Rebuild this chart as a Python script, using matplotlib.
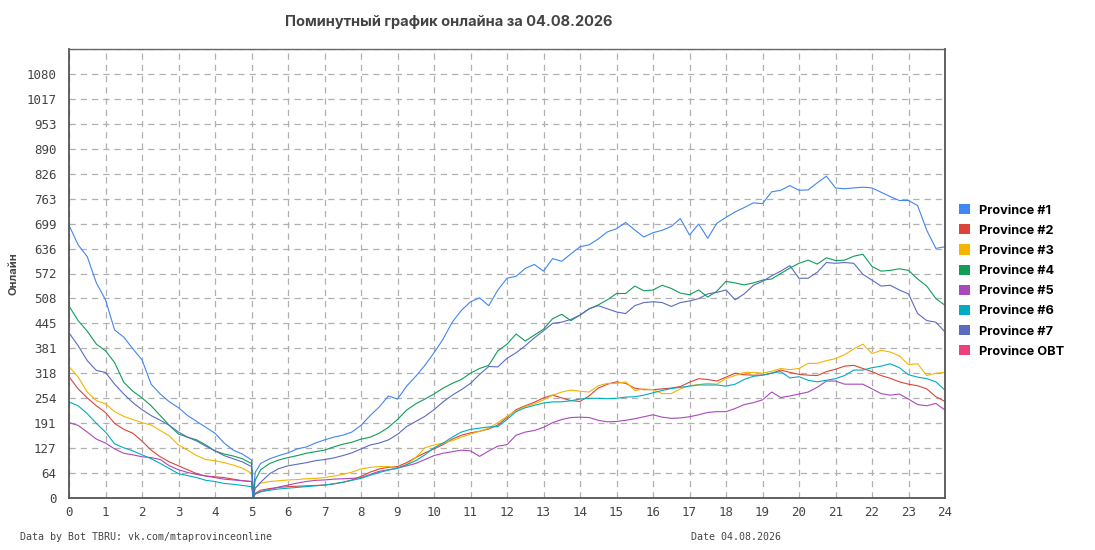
import numpy as np
import matplotlib.pyplot as plt
from matplotlib.patches import Patch

# time of day in hours (15-minute readings, plus the restart just after 05:00)
hours = np.concatenate([np.arange(0, 5.01, 0.25), [5.05, 5.1], np.arange(5.25, 24.01, 0.25)])

p1 = [695, 645, 615, 548, 505, 428, 410, 380, 352, 290, 265, 245, 230, 210, 195, 180,
      165, 140, 122, 112, 97, 5, 65,
      88, 100, 108, 115, 125, 130, 140, 148, 155, 160, 168, 185, 210, 232, 260, 252,
      285, 310, 338, 370, 405, 448, 478, 500, 510, 490, 530, 560, 565, 585, 595, 578,
      610, 603, 622, 640, 645, 660, 678, 686, 702, 683, 665, 676, 682, 692, 712, 670,
      698, 662, 700, 715, 729, 740, 752, 750, 780, 784, 796, 784, 785, 803, 820, 790,
      788, 790, 792, 790, 779, 768, 758, 758, 745, 682, 636, 640]
p2 = [309, 278, 255, 235, 218, 190, 175, 165, 145, 122, 105, 92, 82, 72, 62, 56,
      54, 52, 48, 44, 42, 1, 12,
      20, 24, 27, 29, 30, 31, 32, 33, 36, 40, 46, 55, 66, 74, 78, 80,
      90, 103, 115, 125, 136, 150, 160, 166, 170, 176, 186, 205, 225, 235, 244, 255,
      262, 255, 248, 246, 260, 280, 290, 296, 292, 280, 276, 276, 278, 280, 284, 295,
      304, 302, 298, 308, 318, 314, 313, 313, 318, 326, 320, 315, 313, 312, 322, 328,
      336, 338, 330, 322, 312, 305, 296, 290, 286, 278, 258, 246]
p3 = [335, 308, 270, 248, 240, 220, 208, 200, 192, 186, 172, 158, 135, 122, 108, 98,
      95, 90, 84, 76, 63, 2, 25,
      38, 42, 44, 46, 47, 49, 50, 52, 56, 60, 66, 74, 78, 80, 80, 77,
      85, 103, 128, 135, 140, 146, 155, 163, 170, 178, 192, 208, 222, 233, 240, 250,
      262, 270, 275, 272, 270, 286, 292, 292, 296, 274, 278, 276, 266, 266, 278, 286,
      289, 292, 290, 305, 312, 320, 320, 318, 323, 330, 327, 330, 343, 343, 350, 355,
      365, 380, 392, 368, 376, 372, 362, 340, 342, 312, 318, 320]
p4 = [489, 452, 425, 392, 375, 345, 295, 272, 255, 235, 210, 185, 163, 155, 148, 135,
      120, 112, 107, 100, 88, 3, 45,
      72, 88, 97, 103, 108, 114, 118, 122, 130, 137, 142, 150, 155, 165, 180, 200,
      224, 240, 252, 265, 280, 292, 302, 318, 330, 338, 375, 392, 418, 400, 415, 430,
      457, 468, 452, 466, 482, 492, 505, 521, 521, 540, 528, 530, 542, 534, 522, 518,
      530, 512, 527, 552, 548, 543, 548, 555, 558, 572, 586, 598, 606, 596, 612, 605,
      606, 616, 621, 590, 578, 580, 584, 580, 558, 540, 508, 491]
p5 = [192, 185, 168, 150, 140, 125, 114, 110, 105, 103, 98, 82, 72, 65, 60, 56,
      52, 48, 46, 44, 42, 1, 10,
      16, 22, 28, 33, 38, 42, 45, 46, 48, 49, 50, 52, 60, 68, 72, 76,
      82, 88, 98, 108, 114, 118, 122, 120, 106, 120, 132, 136, 160, 168, 172, 180,
      192, 200, 205, 206, 205, 198, 194, 195, 198, 202, 207, 212, 206, 203, 204, 207,
      212, 218, 220, 220, 228, 238, 243, 250, 270, 256, 260, 265, 270, 282, 298, 298,
      290, 290, 290, 278, 266, 262, 265, 252, 238, 235, 241, 224]
p6 = [245, 235, 215, 190, 168, 138, 128, 120, 110, 100, 88, 75, 62, 57, 52, 45,
      42, 37, 35, 32, 29, 1, 10,
      16, 20, 23, 25, 27, 29, 31, 33, 36, 40, 45, 50, 58, 65, 71, 76,
      85, 95, 110, 128, 140, 155, 168, 175, 178, 181, 182, 200, 220, 230, 236, 242,
      245, 245, 248, 252, 254, 254, 253, 254, 257, 258, 262, 268, 274, 279, 282, 285,
      288, 288, 288, 285, 290, 302, 310, 313, 318, 322, 306, 309, 300, 296, 300, 304,
      312, 326, 326, 332, 336, 342, 332, 314, 308, 304, 296, 275]
p7 = [421, 388, 350, 325, 320, 290, 265, 243, 225, 210, 198, 185, 168, 155, 145, 132,
      120, 108, 100, 92, 80, 2, 25,
      40, 62, 75, 82, 86, 90, 95, 98, 102, 108, 115, 125, 135, 140, 148, 162,
      182, 195, 208, 225, 245, 262, 276, 292, 315, 335, 334, 356, 370, 388, 408, 426,
      445, 448, 455, 466, 482, 490, 482, 474, 470, 490, 498, 500, 498, 488, 498, 502,
      508, 520, 524, 530, 505, 520, 542, 552, 566, 578, 592, 560, 560, 575, 600, 598,
      600, 598, 570, 555, 540, 542, 530, 520, 470, 452, 448, 423]
pobt = []  # no data for this server on the day

names = ["Province #1", "Province #2", "Province #3", "Province #4",
         "Province #5", "Province #6", "Province #7", "Province OBT"]
colors = ["#4285F4", "#DB4437", "#F4B400", "#0F9D58",
          "#AB47BC", "#00ACC1", "#5C6BC0", "#EC407A"]
series = [p1, p2, p3, p4, p5, p6, p7, pobt]

y_max = 1144
y_ticks = np.linspace(0, y_max, 19)
x_ticks = list(range(0, 25))

fig = plt.figure(figsize=(10.95, 5.5), dpi=100)
ax = fig.add_axes([69 / 1095, 52 / 550, 876 / 1095, 449 / 550])

for vals, col in zip(series, colors):
    if len(vals):
        ax.plot(hours, vals, color=col, lw=0.8)

ax.set_xlim(0, 24)
ax.set_ylim(0, y_max)
ax.set_xticks(x_ticks)
ax.set_yticks(y_ticks)
ax.set_yticklabels([f"{v:.0f}" if v < y_max else "" for v in y_ticks])
ax.grid(True, color="#b0b0b0", linestyle=(0, (5, 4)), lw=0.9)
ax.tick_params(length=0, labelsize=9, labelcolor="#444444")
ax.tick_params(axis="y", pad=9)
ax.tick_params(axis="x", pad=6)
for lab in ax.get_xticklabels() + ax.get_yticklabels():
    lab.set_family("DejaVu Sans Mono")
for side in ["left", "bottom", "right"]:
    ax.spines[side].set_color("#555555")
    ax.spines[side].set_linewidth(1.3)
ax.spines["top"].set_color("#666666")
ax.spines["top"].set_linewidth(1.0)

ax.set_ylabel("Онлайн", fontsize=8, fontweight="bold", color="#444444",
              family="Inter", labelpad=6)

fig.text(449 / 1095, 1 - 22 / 550, "Поминутный график онлайна за 04.08.2026",
         ha="center", va="center", fontsize=10.5, fontweight="bold",
         color="#444444", family="Inter")

handles = [Patch(facecolor=c, edgecolor="none") for c in colors]
fig.legend(handles, names, loc="upper left", bbox_to_anchor=(959 / 1095, 1 - 204 / 550),
           frameon=False, handlelength=0.85, handleheight=0.85, handletextpad=0.75,
           labelspacing=0.6, borderpad=0, borderaxespad=0,
           prop={"family": "Inter", "weight": "bold", "size": 9.2})

fig.text(20 / 1095, 1 - 537 / 550, "Data by Bot TBRU: vk.com/mtaprovinceonline",
         ha="left", va="center", fontsize=7.2, color="#444444", family="DejaVu Sans Mono")
fig.text(691 / 1095, 1 - 537 / 550, "Date 04.08.2026",
         ha="left", va="center", fontsize=7.2, color="#444444", family="DejaVu Sans Mono")

fig.savefig("out.png", dpi=100)
plt.close(fig)
